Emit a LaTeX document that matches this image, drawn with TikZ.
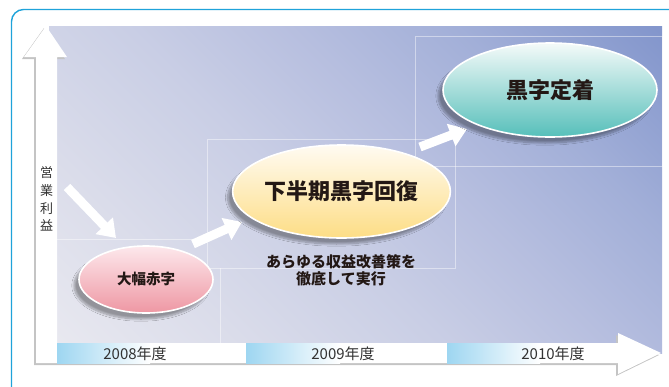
\documentclass[tikz,border=0pt]{standalone}
\usepackage{fontspec}
\setmainfont{Noto Sans CJK JP}
\usetikzlibrary{shapes.geometric,arrows.meta,shadows.blur}
\definecolor{frameblue}{HTML}{1FA3DA}
\definecolor{bgA}{HTML}{E9E9F0}
\definecolor{bgB}{HTML}{DADCEA}
\definecolor{bgC}{HTML}{C9CEE5}
\definecolor{bgD}{HTML}{B6BEDF}
\definecolor{bgE}{HTML}{A2AFD8}
\definecolor{bgF}{HTML}{8396CC}
\definecolor{barblue}{HTML}{9ED6F1}
\definecolor{txtgray}{HTML}{333333}
\definecolor{txtdark}{HTML}{231815}
\definecolor{pinktop}{HTML}{FDE8EC}
\definecolor{pinkbot}{HTML}{EE97A3}
\definecolor{yeltop}{HTML}{FFFBF2}
\definecolor{yelbot}{HTML}{FDDD85}
\definecolor{tealtop}{HTML}{F4FAF9}
\definecolor{tealbot}{HTML}{56BFBA}
\definecolor{axshadow}{HTML}{C4C4C4}
\pgfdeclareverticalshading{bgshade}{100bp}{color(0bp)=(bgA); color(15bp)=(bgA); color(30bp)=(bgB); color(45bp)=(bgC); color(58bp)=(bgD); color(70bp)=(bgE); color(85bp)=(bgF); color(100bp)=(bgF)}
\begin{document}
\begin{tikzpicture}[x=1pt,y=-1pt,
  ell/.style={ellipse, draw=white, line width=1.6pt, inner sep=0pt, text=txtdark,
    blur shadow={shadow xshift=-5pt, shadow yshift=-6pt, shadow blur steps=10, shadow opacity=35}},
  blk/.style={draw=white, line width=9pt, -{Triangle[width=23pt,length=17pt]}},
  gridln/.style={draw=white, opacity=0.45, line width=0.6pt},
  yearlbl/.style={font=\fontsize{15}{17}\selectfont, text=txtgray, inner sep=0pt},
  barbox/.style={left color=barblue, right color=white, draw=none},
]
\useasboundingbox (0,0) rectangle (669,386);
\clip (0,0) rectangle (669,386);
% frame
\draw[frameblue, line width=1.4pt, rounded corners=12pt] (11.5,9.5) rectangle (700,400);
% background
\shade[shading=bgshade, shading angle=-45] (49,26) rectangle (662,353);
% faint grid
\draw[gridln] (207,139) rectangle (455,268);
\draw[gridln] (415,36) rectangle (662,166);
\draw[gridln] (57,239) -- (207,239);
\draw[gridln] (220,268) -- (220,343);
% axis arrow (L shape)
\fill[axshadow] (44,28) -- (65,59) -- (55,59) -- (55,345) -- (616,345) -- (616,335) -- (659,355) -- (616,376) -- (616,365) -- (34,365) -- (34,59) -- (22,59) -- cycle;
\fill[white] (46,26) -- (67,57) -- (57,57) -- (57,343) -- (618,343) -- (618,333) -- (661,353) -- (618,374) -- (618,363) -- (36,363) -- (36,57) -- (24,57) -- cycle;
% year bars
\shade[barbox] (57,343) rectangle (150,363);
\shade[barbox] (246,343) rectangle (340,363);
\shade[barbox] (447,343) rectangle (540,363);
\node[yearlbl] (y2008) at (135,353.5) {2008年度};
\node[yearlbl] (y2009) at (343,353.5) {2009年度};
\node[yearlbl] (y2010) at (553,353.5) {2010年度};
% axis label
\node[font=\fontsize{13}{17.7}\selectfont, text=txtgray, align=center, inner sep=0pt] (ylab) at (46.5,199) {営\\業\\利\\益};
% note text
\node[font=\bfseries\fontsize{15}{17.5}\selectfont, text=txtdark, align=center, inner sep=0pt] (note) at (341,270.5) {あらゆる収益改善策を\\徹底して実行};
% arrow coordinates
\coordinate (a1s) at (67,187);
\coordinate (a1e) at (116,238);
\coordinate (a2s) at (193,244);
\coordinate (a2e) at (242,222);
\coordinate (a3s) at (420,147);
\coordinate (a3e) at (467,129);
\draw[blk] (a1s) -- (a1e);
\draw[blk] (a2s) -- (a2e);
\draw[blk] (a3s) -- (a3e);
% ellipses
\node[ell, top color=pinktop, bottom color=pinkbot, minimum width=134pt, minimum height=67pt,
  font=\bfseries\fontsize{14.5}{16}\selectfont] (red) at (146,279.5) {大幅赤字};
\node[ell, top color=yeltop, bottom color=yelbot, minimum width=213pt, minimum height=93pt,
  font=\bfseries\fontsize{22}{24}\selectfont] (half) at (341.5,191.5) {下半期黒字回復};
\node[ell, top color=tealtop, bottom color=tealbot, minimum width=214pt, minimum height=94pt,
  font=\bfseries\fontsize{22}{24}\selectfont] (black) at (550,90) {黒字定着};
\end{tikzpicture}
\end{document}
